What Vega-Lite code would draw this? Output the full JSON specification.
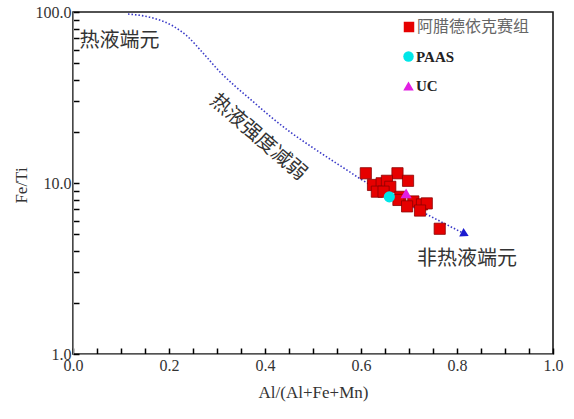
{
  "$schema": "https://vega.github.io/schema/vega-lite/v6.json",
  "width": 480,
  "height": 342,
  "autosize": {"type": "none"},
  "padding": {"left": 73, "top": 12, "right": 21, "bottom": 65},
  "background": "white",
  "config": {
    "view": {"stroke": "#1a1a1a", "strokeWidth": 1.6},
    "axis": {
      "grid": false,
      "labelFont": "Liberation Serif",
      "labelFontSize": 16,
      "labelColor": "#333333",
      "titleFont": "Liberation Serif",
      "titleFontSize": 17,
      "titleFontWeight": "normal",
      "titleColor": "#333333",
      "labelOverlap": false,
      "labelFlush": false
    }
  },
  "datasets": {
    "samples": [
      {"x": 0.610, "y": 11.4, "group": "阿腊德依克赛组"},
      {"x": 0.676, "y": 11.4, "group": "阿腊德依克赛组"},
      {"x": 0.698, "y": 10.3, "group": "阿腊德依克赛组"},
      {"x": 0.625, "y": 9.74, "group": "阿腊德依克赛组"},
      {"x": 0.643, "y": 9.96, "group": "阿腊德依克赛组"},
      {"x": 0.654, "y": 10.3, "group": "阿腊德依克赛组"},
      {"x": 0.661, "y": 9.5, "group": "阿腊德依克赛组"},
      {"x": 0.633, "y": 8.9, "group": "阿腊德依克赛组"},
      {"x": 0.647, "y": 8.9, "group": "阿腊德依克赛组"},
      {"x": 0.682, "y": 8.3, "group": "阿腊德依克赛组"},
      {"x": 0.678, "y": 7.96, "group": "阿腊德依克赛组"},
      {"x": 0.709, "y": 7.8, "group": "阿腊德依克赛组"},
      {"x": 0.696, "y": 7.3, "group": "阿腊德依克赛组"},
      {"x": 0.727, "y": 7.5, "group": "阿腊德依克赛组"},
      {"x": 0.737, "y": 7.6, "group": "阿腊德依克赛组"},
      {"x": 0.723, "y": 6.9, "group": "阿腊德依克赛组"},
      {"x": 0.764, "y": 5.4, "group": "阿腊德依克赛组"}
    ],
    "refs": [
      {"x": 0.659, "y": 8.3, "group": "PAAS"},
      {"x": 0.694, "y": 8.7, "group": "UC"}
    ],
    "curve": [
      {"x": 0.1146, "y": 97.3},
      {"x": 0.1667, "y": 92.2},
      {"x": 0.2083, "y": 82.8},
      {"x": 0.2375, "y": 72.4},
      {"x": 0.2708, "y": 57.6},
      {"x": 0.3063, "y": 44.6},
      {"x": 0.3375, "y": 36.9},
      {"x": 0.3688, "y": 31.0},
      {"x": 0.4104, "y": 24.6},
      {"x": 0.4521, "y": 19.9},
      {"x": 0.4938, "y": 16.5},
      {"x": 0.5354, "y": 13.8},
      {"x": 0.5708, "y": 11.9},
      {"x": 0.5979, "y": 10.6},
      {"x": 0.6813, "y": 7.95},
      {"x": 0.7438, "y": 6.41},
      {"x": 0.8167, "y": 5.03}
    ],
    "endpoint": [{"x": 0.8167, "y": 5.03}],
    "labels": [
      {"x": 0.0136, "y": 68.0, "label": "热液端元"},
      {"x": 0.7165, "y": 3.57, "label": "非热液端元"}
    ],
    "slanted": [{"x": 0.386, "y": 18.5, "label": "热液强度减弱"}]
  },
  "encoding": {
    "x": {
      "field": "x",
      "type": "quantitative",
      "scale": {"domain": [0, 1], "nice": false, "zero": false},
      "axis": {
        "title": "Al/(Al+Fe+Mn)",
        "ticks": true,
        "zindex": 1,
        "tickColor": "black",
        "tickWidth": 1.5,
        "tickSize": -6,
        "labelPadding": 9,
        "values": [0, 0.05, 0.1, 0.15, 0.2, 0.25, 0.3, 0.35, 0.4, 0.45, 0.5, 0.55, 0.6, 0.65, 0.7, 0.75, 0.8, 0.85, 0.9, 0.95, 1.0],
        "labelExpr": "abs(datum.value*5 - round(datum.value*5)) < 0.001 ? format(datum.value, '.1f') : ''",
        "titleY": 38,
        "titleBaseline": "middle"
      }
    },
    "y": {
      "field": "y",
      "type": "quantitative",
      "scale": {"type": "log", "domain": [1, 100], "nice": false},
      "axis": {
        "title": "Fe/Ti",
        "ticks": true,
        "zindex": 1,
        "tickColor": "black",
        "tickWidth": 1.5,
        "tickSize": -6,
        "labelPadding": 8,
        "values": [1, 2, 3, 4, 5, 6, 7, 8, 9, 10, 20, 30, 40, 50, 60, 70, 80, 90, 100],
        "labelExpr": "(datum.value == 1 || datum.value == 10 || datum.value == 100) ? format(datum.value, '.1f') : ''",
        "titleX": -52,
        "titleY": 173,
        "titleAlign": "center",
        "titleBaseline": "middle",
        "titleAngle": -90
      }
    }
  },
  "layer": [
    {
      "data": {"name": "curve"},
      "mark": {"type": "line", "interpolate": "monotone", "color": "#3a3ac8", "strokeWidth": 1.6, "strokeDash": [1.5, 2]}
    },
    {
      "data": {"name": "endpoint"},
      "mark": {"type": "point", "shape": "triangle-right", "filled": true, "color": "#1a1ad0", "size": 90, "angle": 27, "opacity": 1}
    },
    {
      "data": {"name": "samples"},
      "mark": {"type": "point", "filled": true, "size": 125, "opacity": 1, "strokeWidth": 0.8, "stroke": "#8a0000", "shape": "square"},
      "encoding": {
        "color": {
          "field": "group",
          "type": "nominal",
          "scale": {"domain": ["阿腊德依克赛组"], "range": ["#e60000"]},
          "legend": {
            "title": null,
            "orient": "none",
            "legendX": 328,
            "legendY": 7,
            "padding": 0,
            "symbolSize": 110,
            "symbolType": "square",
            "symbolStrokeWidth": 0,
            "labelOffset": 0,
            "labelFont": "Noto Sans CJK SC",
            "labelFontSize": 16,
            "labelColor": "#666666",
            "labelLimit": 200
          }
        }
      }
    },
    {
      "data": {"name": "refs"},
      "mark": {"type": "point", "filled": true, "size": 125, "opacity": 1},
      "encoding": {
        "color": {
          "field": "group",
          "type": "nominal",
          "scale": {"domain": ["PAAS", "UC"], "range": ["#00e6e8", "#e21ee2"]},
          "legend": {
            "title": null,
            "orient": "none",
            "legendX": 328,
            "legendY": 37,
            "padding": 0,
            "symbolSize": 110,
            "symbolStrokeWidth": 0,
            "labelOffset": 0,
            "rowPadding": 13.5,
            "labelFont": "Liberation Serif",
            "labelFontWeight": "bold",
            "labelFontSize": 15,
            "labelColor": "#222222"
          }
        },
        "shape": {
          "field": "group",
          "type": "nominal",
          "scale": {"domain": ["PAAS", "UC"], "range": ["circle", "triangle-up"]}
        }
      }
    },
    {
      "data": {"name": "labels"},
      "mark": {"type": "text", "font": "Noto Sans CJK SC", "fontSize": 20, "color": "#333333", "align": "left", "baseline": "middle"},
      "encoding": {"text": {"field": "label"}}
    },
    {
      "data": {"name": "slanted"},
      "mark": {"type": "text", "font": "Noto Sans CJK SC", "fontSize": 20, "color": "#333333", "align": "center", "baseline": "middle", "angle": 41},
      "encoding": {"text": {"field": "label"}}
    }
  ],
  "resolve": {"scale": {"color": "independent", "shape": "independent"}}
}
